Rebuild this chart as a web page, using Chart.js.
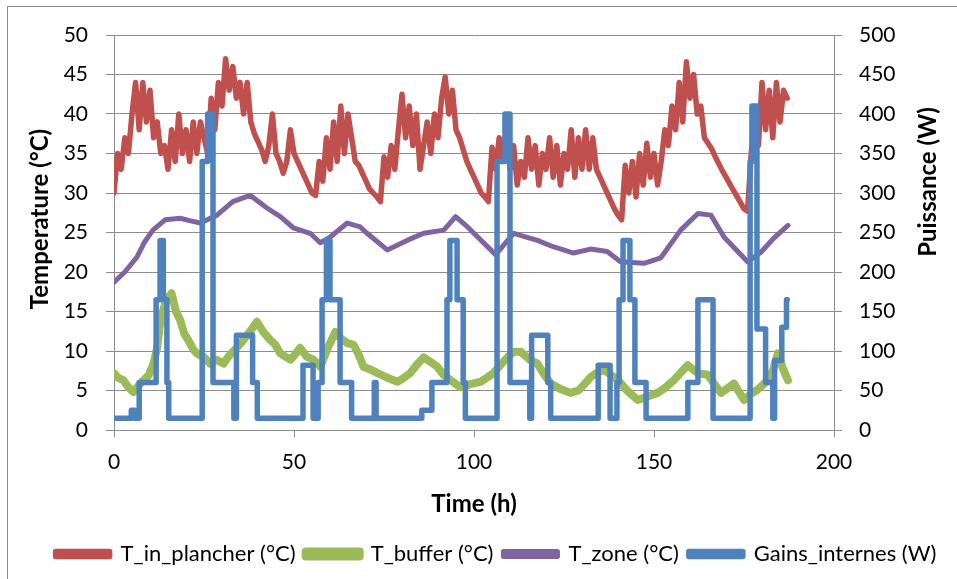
<!DOCTYPE html>
<html>
<head>
<meta charset="utf-8">
<script src="https://cdn.jsdelivr.net/npm/chart.js@4.4.0/dist/chart.umd.min.js"></script>
<style>
  html, body { margin: 0; padding: 0; background: #fff; }
  #wrap { position: relative; width: 957px; height: 579px; }
  #frame { position: absolute; left: 7px; top: 6px; width: 1000px; height: 1000px; border-left: 1px solid #8c8c8c; border-top: 1px solid #8c8c8c; }
  canvas { position: absolute; left: 0; top: 0; }
</style>
</head>
<body>
<div id="wrap">
  <div id="frame"></div>
  <canvas id="chart" width="957" height="579"></canvas>
</div>
<script>
// Series labels
const seriesNames = ['T_in_plancher (°C)', 'T_buffer (°C)', 'T_zone (°C)', 'Gains_internes (W)'];

// T_in_plancher, one value per hour from t = 0 h
const tInPlancher = [
    30, 35, 33, 37, 35, 40, 44, 38, 44, 39, 43, 37, 39, 35, 36, 33, 38, 34, 40, 35,
    38, 34, 39, 35, 39, 37, 35, 42, 38, 44, 41, 47, 43, 46, 42, 44, 40, 44, 39, 37.5,
    36.5, 35.5, 34, 36, 40, 35, 34, 32.5, 34, 38, 35, 34, 33, 32, 31, 30, 29.7, 34, 31.5, 37,
    33, 39, 34, 41, 35, 40, 37, 34, 33.5, 32.5, 31.5, 30.5, 30, 29.5, 28.9, 34.6, 32, 36, 33, 38,
    42.5, 37, 41, 36, 40, 33, 36, 39, 35, 40, 37, 42, 44.7, 40, 43, 38, 37, 35.5, 34, 33,
    32, 31, 30, 29.5, 28.9, 35.8, 33, 37, 34, 38, 33, 36, 31, 34, 32, 37, 33, 36, 31, 35,
    33, 37, 32, 36, 31, 35, 33, 38, 32, 37, 33, 38, 33, 37, 33, 32, 31, 30, 29, 28,
    27.2, 26.6, 33.5, 30, 34, 29.5, 35, 31, 36.3, 32, 35, 31, 34, 38, 36, 41, 38, 44, 39, 46.6,
    42, 45, 40, 41, 37, 36.3, 35.6, 34.6, 33.7, 32.8, 32, 31.2, 30.4, 29.6, 28.8, 28, 27.7, 35, 39, 36,
    44, 38, 43, 37, 44, 39, 43, 42
];

// T_buffer
const tBufferTime = [0, 1.2, 2.6, 4, 5.4, 6.8, 8.2, 9.6, 11, 12, 12.9, 14.5, 16, 17.2, 18.4, 19.5, 20.6, 22, 23, 25,
    26.7, 28.5, 30.4, 31.8, 33, 34.5, 36, 38, 39.7, 41.5, 43.4, 44.8, 46.2, 47.6, 49, 50.4, 51.7, 53.5, 55.4, 57.3,
    59.5, 61.5, 63, 64.8, 66.5, 68, 69.3, 71, 73.2, 76, 78.7, 80.5, 82.3, 84, 86, 88, 89.8, 91.5, 93.5, 96.2,
    99, 101.8, 103.5, 105.4, 107.5, 109.3, 111, 113, 115.5, 117.6, 119.5, 121.3, 124, 126.8, 129, 130.5, 132.4, 134, 136, 138,
    140, 142.5, 145.5, 148, 151, 153, 155.5, 157.5, 159.4, 161, 162.2, 164.9, 166.8, 168.6, 170.5, 172.2, 173.5, 175, 177, 178.8,
    181.6, 183, 184.4, 185.8, 187.2];
const tBuffer = [7.2, 6.6, 6.3, 5.4, 4.8, 5.6, 6.3, 6.9, 8.4, 10.5, 13.9, 16.5, 17.3, 15, 13.9, 12.2, 11.4, 10.2, 9.7, 9.2,
    8.4, 8.9, 8.4, 9.3, 9.9, 10.6, 11.4, 12.6, 13.7, 12.4, 11.4, 10.8, 9.7, 9.3, 8.9, 9.6, 10.4, 9.3, 8.9, 8,
    10.5, 12.4, 11.6, 11, 10.8, 9.5, 8, 7.7, 7.2, 6.6, 6.1, 6.6, 7.2, 8.2, 9.2, 8.6, 8, 7, 6.3, 5.4,
    5.8, 6.1, 6.6, 7.2, 8.3, 9.2, 9.9, 9.9, 8.9, 8.4, 7, 5.9, 5.2, 4.7, 5, 5.7, 6.7, 7.2, 7.6, 7,
    6.3, 5, 3.8, 4.2, 4.7, 5.3, 6.3, 7.3, 8.2, 7.6, 7.2, 7, 5.8, 4.7, 5.3, 5.9, 4.9, 3.8, 4.6, 5.1,
    6.3, 7.5, 9.7, 7.8, 6.3];

// T_zone
const tZoneTime = [0, 3, 6.4, 8.5, 10.8, 14.2, 18.4, 21, 24, 28.6, 33, 37.8, 42.5, 46.2, 49.8, 54.5, 57.3, 60, 64.8, 68.4,
    70.3, 75.9, 81.4, 86, 91.6, 94.9, 98.2, 106, 111, 117.6, 122, 127.7, 132.4, 137, 140.7, 147.2, 151.9, 157.4, 162.2, 165.8,
    169.5, 176, 179.7, 183.3, 187.2];
const tZone = [18.7, 20, 21.9, 23.8, 25.3, 26.6, 26.8, 26.5, 26.2, 27.2, 28.9, 29.7, 28.1, 27, 25.6, 24.9, 23.7, 24.4, 26.2, 25.7,
    24.9, 22.8, 24, 24.9, 25.3, 27, 25.7, 22.2, 24.9, 24, 23.2, 22.4, 22.9, 22.6, 21.3, 21.1, 21.8, 25.3, 27.4, 27.2,
    24.4, 21.3, 22.5, 24.3, 25.9];

// Gains_internes (W): time of each change and the new level
const gainsTime = [0, 4.8, 5.8, 7, 11.7, 12.8, 13.7, 14.7, 15.2, 24.5, 26, 27.5, 33.3, 34, 38.5, 39.8, 52.5, 55.3, 56.7, 57.8,
    59, 60, 62.8, 66, 72.3, 72.8, 85.5, 88.3, 92.5, 93.3, 95.3, 97, 97.6, 106.4, 108.6, 110, 115.5, 116, 120.5, 121.3,
    134.5, 137.8, 139.7, 140.3, 141.4, 143.3, 144.7, 147.8, 159.4, 162.2, 166.4, 176.7, 177.2, 178.6, 181, 183, 183.5, 185.5, 186.8, 187];
const gains = [15, 25, 15, 60, 165, 240, 165, 60, 15, 340, 400, 60, 15, 120, 60, 15, 82, 15, 60, 165,
    240, 165, 60, 15, 60, 15, 25, 60, 165, 240, 165, 60, 15, 340, 400, 60, 15, 120, 60, 15,
    82, 15, 60, 165, 240, 165, 60, 15, 60, 165, 15, 340, 410, 128, 60, 15, 88, 130, 165, 165];

const xTicks = [0, 50, 100, 150, 200];

const colors = ['#C0504D', '#9BBB59', '#8064A2', '#4F81BD'];
const gridColor = '#8c8c8c';
const fontFamily = 'Lato, "Open Sans", sans-serif';

const pts = (xs, ys) => ys.map((v, i) => ({ x: xs[i], y: v }));
const hours = tInPlancher.map((_, i) => i);

// Draw the y axis titles (both read bottom to top)
function drawVerticalTitle(ctx, text, x, y) {
    ctx.save();
    ctx.fillStyle = '#000';
    ctx.font = 'bold 24px ' + fontFamily;
    ctx.textAlign = 'center';
    ctx.textBaseline = 'middle';
    ctx.translate(x, y);
    ctx.rotate(-Math.PI / 2);
    ctx.fillText(text, 0, 0);
    ctx.restore();
}

const axisTitles = {
    id: 'axisTitles',
    afterDraw(chart) {
        drawVerticalTitle(chart.ctx, 'Temperature (°C)', 40, 219);
        drawVerticalTitle(chart.ctx, 'Puissance (W)', 928, 182);
    }
};

const lineDefaults = { pointRadius: 0, tension: 0, fill: false, borderCapStyle: 'round', borderJoinStyle: 'round' };

new Chart(document.getElementById('chart').getContext('2d'), {
    type: 'line',
    data: {
        datasets: [
            Object.assign({ label: seriesNames[0], data: pts(hours, tInPlancher), borderColor: colors[0], backgroundColor: colors[0], borderWidth: 5.5, yAxisID: 'y', order: 3 }, lineDefaults),
            Object.assign({ label: seriesNames[1], data: pts(tBufferTime, tBuffer), borderColor: colors[1], backgroundColor: colors[1], borderWidth: 8, yAxisID: 'y', order: 2 }, lineDefaults),
            Object.assign({ label: seriesNames[2], data: pts(tZoneTime, tZone), borderColor: colors[2], backgroundColor: colors[2], borderWidth: 5, yAxisID: 'y', order: 1 }, lineDefaults),
            Object.assign({ label: seriesNames[3], data: pts(gainsTime, gains), borderColor: colors[3], backgroundColor: colors[3], borderWidth: 5.5, yAxisID: 'y1', order: 0, stepped: 'before' }, lineDefaults)
        ]
    },
    options: {
        responsive: false,
        animation: false,
        // left padding shifts the centred legend to the right, the y axis width makes up for it
        layout: { padding: { left: 35, right: 0, top: 35, bottom: 4 } },
        plugins: {
            tooltip: { enabled: false },
            legend: {
                position: 'bottom',
                labels: {
                    boxWidth: 54,
                    boxHeight: 5,
                    padding: 10,
                    color: '#000',
                    font: { family: fontFamily, size: 22 },
                    sort: (a, b) => a.datasetIndex - b.datasetIndex
                }
            }
        },
        scales: {
            x: {
                type: 'linear',
                min: 0,
                max: 200,
                afterBuildTicks: (scale) => { scale.ticks = xTicks.map(v => ({ value: v })); },
                afterFit: (scale) => { scale.height = 103; },
                grid: { drawOnChartArea: false, color: gridColor, tickLength: 7 },
                border: { color: gridColor },
                ticks: { color: '#000', padding: 13, maxRotation: 0, font: { family: fontFamily, size: 21 } },
                title: { display: true, text: 'Time (h)', color: '#000', font: { family: fontFamily, size: 24, weight: 'bold', lineHeight: 1.2 }, padding: { top: 0, bottom: 14 } }
            },
            y: {
                position: 'left',
                min: 0,
                max: 50,
                afterFit: (scale) => { scale.width = 79; },
                grid: { color: gridColor, tickLength: 8 },
                border: { color: gridColor },
                ticks: { stepSize: 5, color: '#000', padding: 18, font: { family: fontFamily, size: 21 } }
            },
            y1: {
                position: 'right',
                min: 0,
                max: 500,
                afterFit: (scale) => { scale.width = 123; },
                grid: { drawOnChartArea: false, color: gridColor, tickLength: 8 },
                border: { color: gridColor },
                ticks: { stepSize: 50, color: '#000', padding: 17, font: { family: fontFamily, size: 21 } }
            }
        }
    },
    plugins: [axisTitles]
});
</script>
</body>
</html>
